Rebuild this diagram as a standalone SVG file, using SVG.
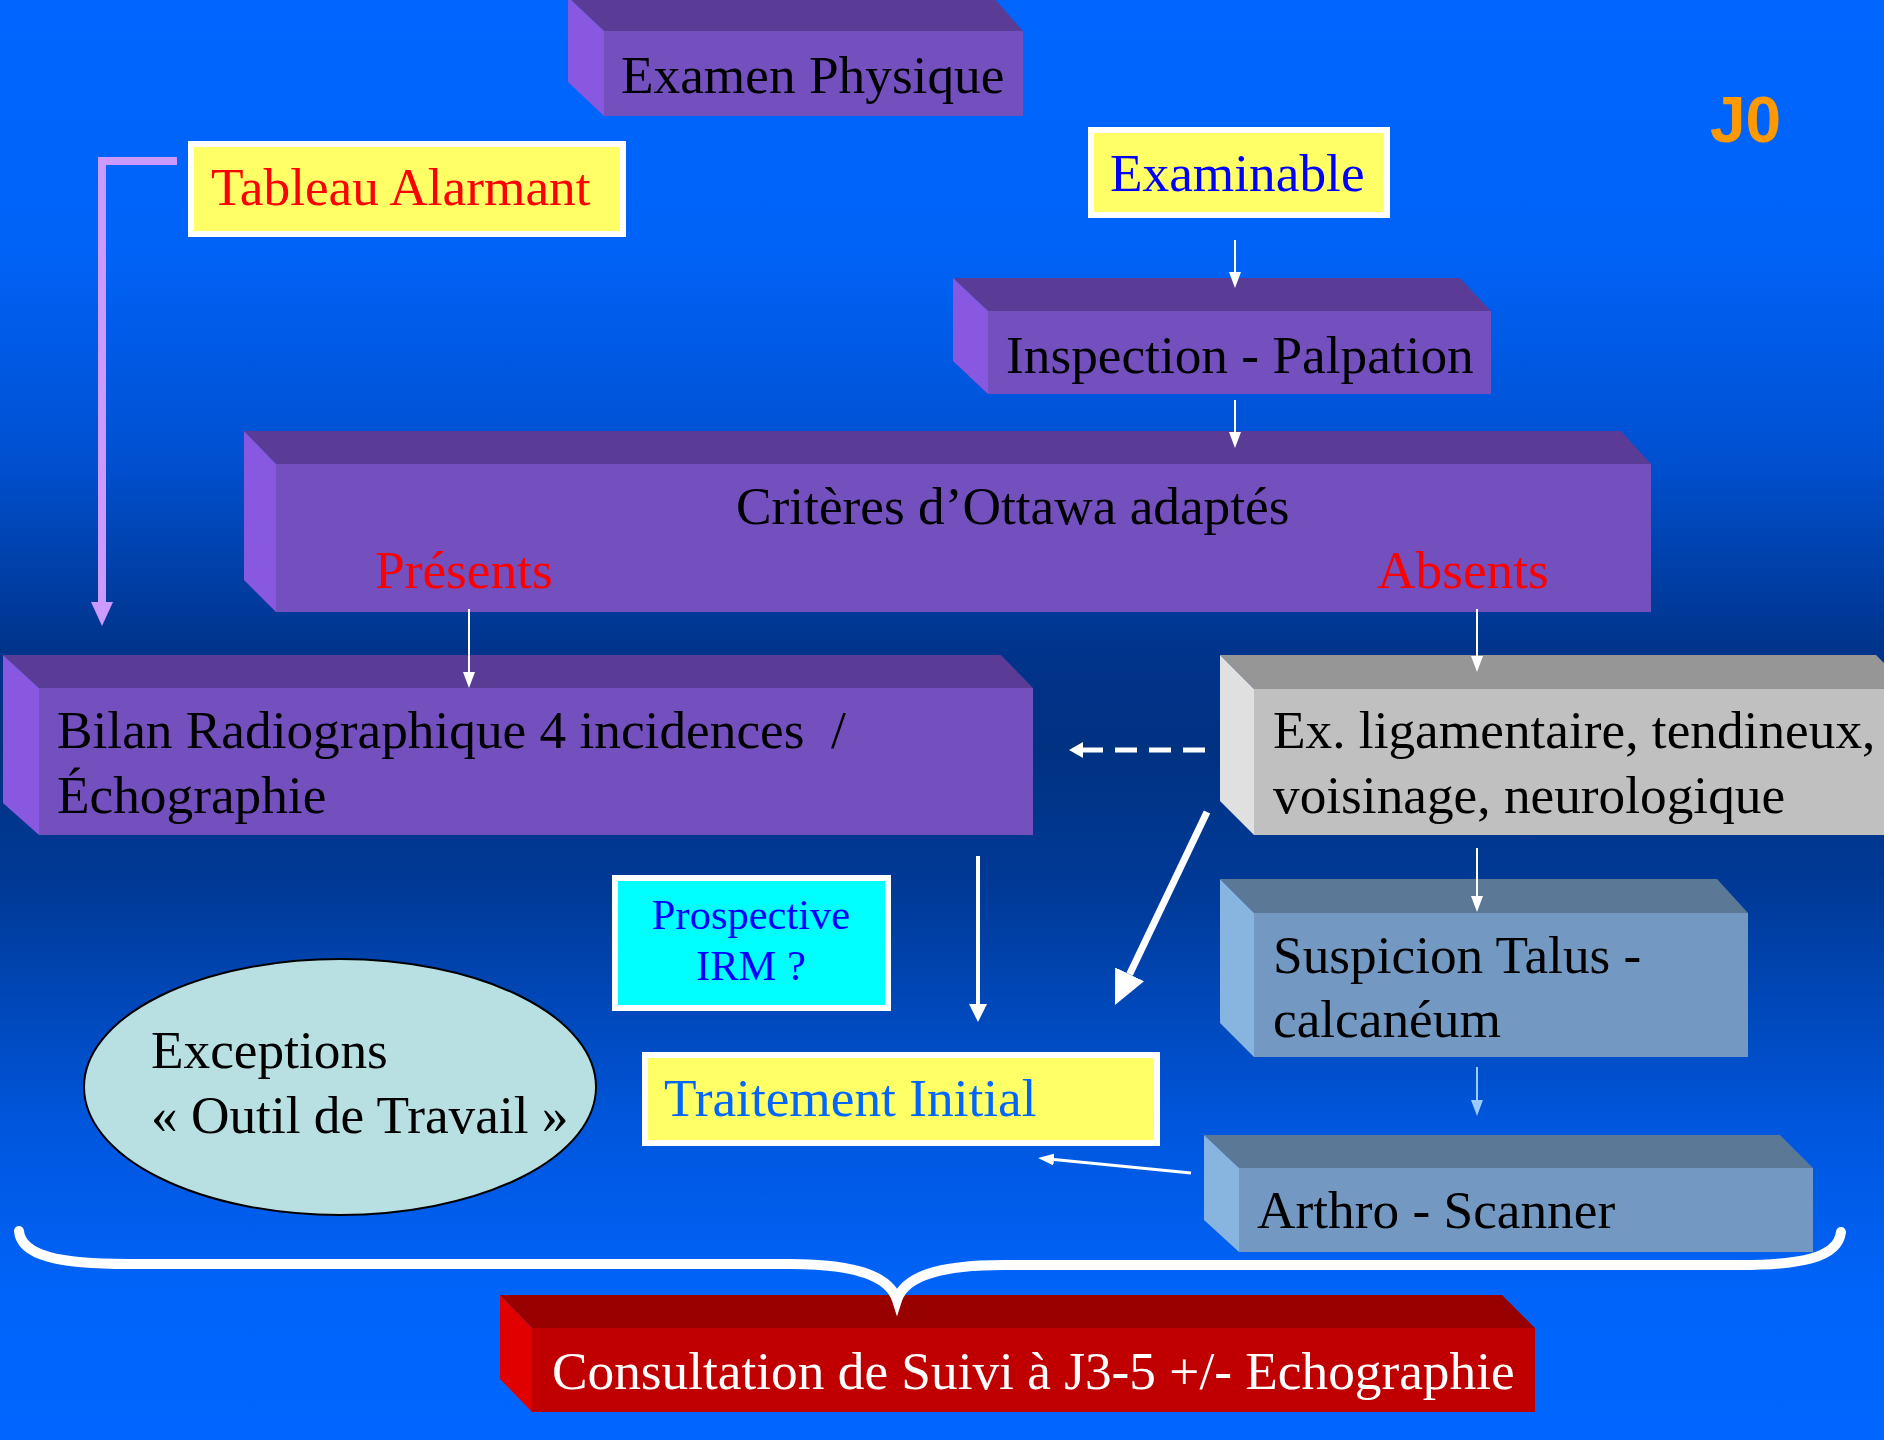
<svg xmlns="http://www.w3.org/2000/svg" width="1884" height="1440" viewBox="0 0 1884 1440">
<defs>
<linearGradient id="bg" x1="0" y1="0" x2="0" y2="1440" gradientUnits="userSpaceOnUse">
<stop offset="0" stop-color="#0066FF"/>
<stop offset="0.17" stop-color="#0063F8"/>
<stop offset="0.32" stop-color="#0050D0"/>
<stop offset="0.45" stop-color="#00348C"/>
<stop offset="0.52" stop-color="#003282"/>
<stop offset="0.62" stop-color="#003A98"/>
<stop offset="0.78" stop-color="#0056DC"/>
<stop offset="0.9" stop-color="#0064FA"/>
<stop offset="1" stop-color="#0066FF"/>
</linearGradient>
<marker id="ah" markerUnits="userSpaceOnUse" markerWidth="16" markerHeight="12" refX="0" refY="6" orient="auto"><path d="M0,0 L16,6 L0,12 Z" fill="#FFFFFF"/></marker>
<marker id="ahBlue" markerUnits="userSpaceOnUse" markerWidth="16" markerHeight="12" refX="0" refY="6" orient="auto"><path d="M0,0 L16,6 L0,12 Z" fill="#99CCFF"/></marker>
<marker id="ahMed" markerUnits="userSpaceOnUse" markerWidth="18" markerHeight="18" refX="0" refY="9" orient="auto"><path d="M0,0 L18,9 L0,18 Z" fill="#FFFFFF"/></marker>
<marker id="ahDash" markerUnits="userSpaceOnUse" markerWidth="14" markerHeight="16" refX="0" refY="8" orient="auto"><path d="M0,0 L14,8 L0,16 Z" fill="#FFFFFF"/></marker>
<marker id="ahBig" markerUnits="userSpaceOnUse" markerWidth="34" markerHeight="32" refX="0" refY="16" orient="auto"><path d="M0,0 L34,16 L0,32 Z" fill="#FFFFFF"/></marker>
<marker id="ahPink" markerUnits="userSpaceOnUse" markerWidth="24" markerHeight="22" refX="0" refY="11" orient="auto"><path d="M0,0 L24,11 L0,22 Z" fill="#CC99FF"/></marker>
</defs>
<style>
.t{font-family:"Liberation Serif","Times New Roman",serif;font-size:53.3px;fill:#000}
.pt{fill:#5A3C96}.pf{fill:#744FBE}.pl{fill:#8858E0}
.gt{fill:#969696}.gf{fill:#C0C0C0}.gl{fill:#E0E0E0}
.bt{fill:#5B7896}.bf{fill:#7399C2}.bl{fill:#88B4E0}
.rt{fill:#990000}.rf{fill:#C00000}.rl{fill:#E00000}
.yb{fill:#FFFF66;stroke:#FFFFFF;stroke-width:6}
.thin{stroke:#FFFFFF;stroke-width:2;fill:none}
</style>
<rect x="0" y="0" width="1884" height="1440" fill="url(#bg)"/>

<text x="1710" y="142" style="font-family:'Liberation Sans',Arial,sans-serif;font-weight:bold;font-size:64px;fill:#FF9900">J0</text>

<g id="examen-physique">
<polygon class="pt" points="568,-3 993,-3 1023,31 604,31"/>
<polygon class="pl" points="568,-3 604,31 604,116 568,82"/>
<rect class="pf" x="604" y="31" width="419" height="85"/>
<text class="t" x="621" y="93">Examen Physique</text>
</g>

<g id="tableau-alarmant">
<rect class="yb" x="191" y="144" width="432" height="90"/>
<text class="t" x="211" y="205" style="fill:#FF0000">Tableau Alarmant</text>
</g>

<g id="examinable">
<rect class="yb" x="1091" y="130" width="296" height="85"/>
<text class="t" x="1110" y="191" style="fill:#0000FF">Examinable</text>
</g>

<g id="inspection-palpation">
<polygon class="pt" points="953,278 1460,278 1491,311 988,311"/>
<polygon class="pl" points="953,278 988,311 988,394 953,361"/>
<rect class="pf" x="988" y="311" width="503" height="83"/>
<text class="t" x="1006" y="373">Inspection - Palpation</text>
</g>

<g id="criteres-ottawa">
<polygon class="pt" points="244,431 1621,431 1651,464 276,464"/>
<polygon class="pl" points="244,431 276,464 276,612 244,580"/>
<rect class="pf" x="276" y="464" width="1375" height="148"/>
<text class="t" x="736" y="524">Critères d’Ottawa adaptés</text>
<text class="t" x="375" y="588" style="fill:#FF0000">Présents</text>
<text class="t" x="1377" y="588" style="fill:#FF0000">Absents</text>
</g>

<g id="bilan-radio">
<polygon class="pt" points="3,655 1001,655 1033,688 39,688"/>
<polygon class="pl" points="3,655 39,688 39,835 3,803"/>
<rect class="pf" x="39" y="688" width="994" height="147"/>
<text class="t" x="57" y="748" xml:space="preserve">Bilan Radiographique 4 incidences  /</text>
<text class="t" x="57" y="813">Échographie</text>
</g>

<g id="ex-ligamentaire">
<polygon class="gt" points="1220,655 1876,655 1910,689 1254,689"/>
<polygon class="gl" points="1220,655 1254,689 1254,835 1220,801"/>
<rect class="gf" x="1254" y="689" width="660" height="146"/>
<text class="t" x="1273" y="748">Ex. ligamentaire, tendineux,</text>
<text class="t" x="1273" y="813">voisinage, neurologique</text>
</g>

<g id="prospective-irm">
<rect x="615" y="878" width="273" height="130" fill="#00FFFF" stroke="#FFFFFF" stroke-width="6"/>
<text class="t" x="751" y="929" text-anchor="middle" style="font-size:42.5px;fill:#0000FF">Prospective</text>
<text class="t" x="751" y="980" text-anchor="middle" style="font-size:42.5px;fill:#0000FF">IRM ?</text>
</g>

<g id="suspicion-talus">
<polygon class="bt" points="1220,879 1717,879 1748,913 1254,913"/>
<polygon class="bl" points="1220,879 1254,913 1254,1057 1220,1023"/>
<rect class="bf" x="1254" y="913" width="494" height="144"/>
<text class="t" x="1273" y="973">Suspicion Talus -</text>
<text class="t" x="1273" y="1037">calcanéum</text>
</g>

<g id="exceptions">
<ellipse cx="340" cy="1087" rx="256" ry="128" fill="#B8E0E2" stroke="#000000" stroke-width="2"/>
<text class="t" x="151" y="1068">Exceptions</text>
<text class="t" x="151" y="1133">« Outil de Travail »</text>
</g>

<g id="traitement-initial">
<rect class="yb" x="645" y="1055" width="512" height="88"/>
<text class="t" x="664" y="1116" style="fill:#0066FF">Traitement Initial</text>
</g>

<g id="arthro-scanner">
<polygon class="bt" points="1204,1135 1780,1135 1813,1168 1239,1168"/>
<polygon class="bl" points="1204,1135 1239,1168 1239,1252 1204,1220"/>
<rect class="bf" x="1239" y="1168" width="574" height="84"/>
<text class="t" x="1257" y="1228">Arthro - Scanner</text>
</g>

<g id="consultation-suivi">
<polygon class="rt" points="500,1295 1502,1295 1535,1328 532,1328"/>
<polygon class="rl" points="500,1295 532,1328 532,1412 500,1379"/>
<rect class="rf" x="532" y="1328" width="1003" height="84"/>
<text class="t" x="552" y="1389" style="fill:#FFFFFF">Consultation de Suivi à J3-5 +/- Echographie</text>
</g>

<g id="connectors">
<path d="M177,161 H102 V602" fill="none" stroke="#CC99FF" stroke-width="8" marker-end="url(#ahPink)"/>
<line class="thin" x1="1235" y1="240" x2="1235" y2="272" marker-end="url(#ah)"/>
<line class="thin" x1="1235" y1="400" x2="1235" y2="432" marker-end="url(#ah)"/>
<line class="thin" x1="469" y1="609" x2="469" y2="672" marker-end="url(#ah)"/>
<line class="thin" x1="1477" y1="609" x2="1477" y2="656" marker-end="url(#ah)"/>
<line x1="1205" y1="750" x2="1083" y2="750" stroke="#FFFFFF" stroke-width="5" stroke-dasharray="22 12" marker-end="url(#ahDash)"/>
<line x1="1207" y1="812" x2="1129.6" y2="974.3" stroke="#FFFFFF" stroke-width="7" marker-end="url(#ahBig)"/>
<line x1="978" y1="856" x2="978" y2="1004" stroke="#FFFFFF" stroke-width="4" marker-end="url(#ahMed)"/>
<line class="thin" x1="1477" y1="848" x2="1477" y2="896" marker-end="url(#ah)"/>
<line x1="1477" y1="1067" x2="1477" y2="1100" stroke="#99CCFF" stroke-width="2" marker-end="url(#ahBlue)"/>
<line x1="1191" y1="1173" x2="1054" y2="1159.5" stroke="#FFFFFF" stroke-width="3" marker-end="url(#ah)"/>
<path d="M19,1231 C21,1256 60,1264 128,1264 L790,1264 C860,1264 890,1278 897,1300 C904,1278 934,1265 1004,1265 L1740,1265 C1800,1265 1838,1258 1841,1232" fill="none" stroke="#FFFFFF" stroke-width="10" stroke-linecap="round"/>
</g>
</svg>
